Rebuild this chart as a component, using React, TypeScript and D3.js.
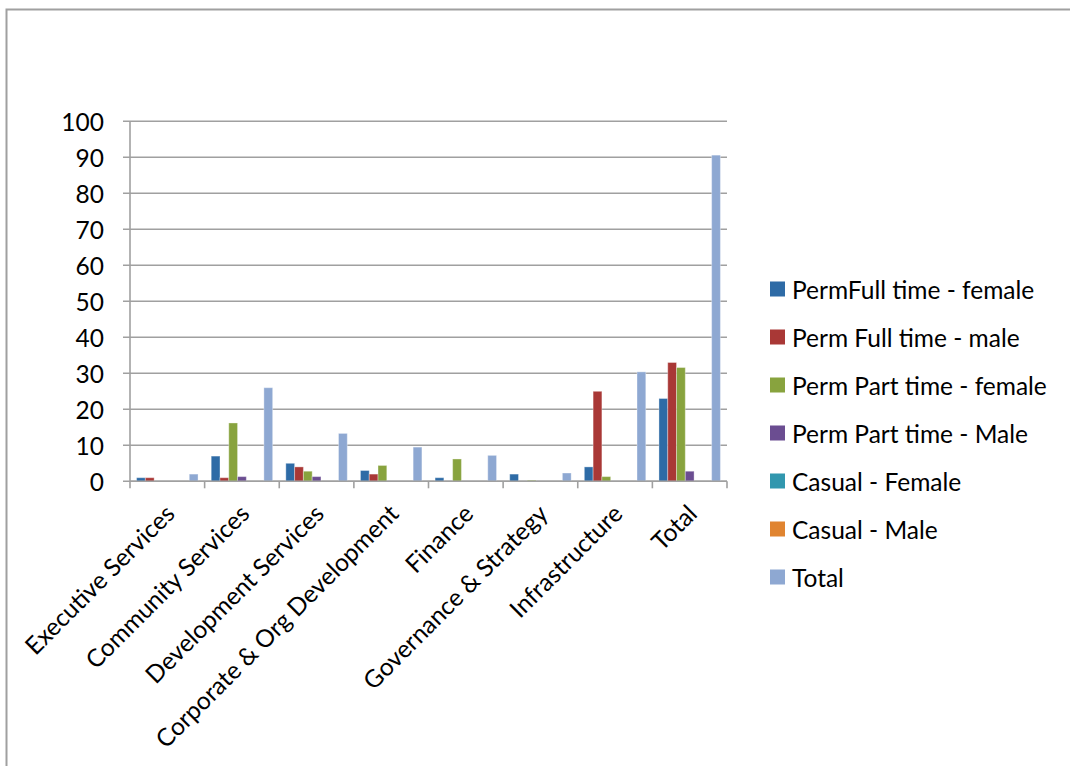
import React from "react";
import * as d3 from "d3";

// Staff numbers by directorate and employment type
const categories = [
  "Executive Services",
  "Community Services",
  "Development Services",
  "Corporate & Org Development",
  "Finance",
  "Governance & Strategy",
  "Infrastructure",
  "Total",
];

const seriesNames = [
  "PermFull time - female",
  "Perm Full time - male",
  "Perm Part time - female",
  "Perm Part time - Male",
  "Casual - Female",
  "Casual - Male",
  "Total",
];

const permFullFemale = [1, 7, 5, 3, 1, 2, 4, 23];
const permFullMale = [1, 1, 4, 2, 0, 0, 25, 33];
const permPartFemale = [0, 16.2, 2.8, 4.4, 6.2, 0.3, 1.3, 31.6];
const permPartMale = [0, 1.3, 1.3, 0, 0, 0, 0, 2.8];
const casualFemale = [0, 0, 0, 0, 0, 0, 0, 0];
const casualMale = [0, 0, 0, 0, 0, 0, 0, 0];
const totals = [2, 26, 13.3, 9.5, 7.2, 2.3, 30.4, 90.6];

const yTicks = [0, 10, 20, 30, 40, 50, 60, 70, 80, 90, 100];

const seriesValues = [
  permFullFemale,
  permFullMale,
  permPartFemale,
  permPartMale,
  casualFemale,
  casualMale,
  totals,
];

const seriesColors = [
  "#2E6BA6",
  "#A93836",
  "#88A33E",
  "#6B4D91",
  "#3197AE",
  "#E08430",
  "#8EA8D2",
];

const FONT = "Lato, 'Open Sans', sans-serif";
const FS = 24.5;
const W = 1070;
const H = 766;
const plot = { left: 130, right: 727, top: 121.3, bottom: 481.3 };
const AXIS = "#A0A0A0";

export default function App() {
  const x = d3
    .scaleBand<string>()
    .domain(categories)
    .range([plot.left, plot.right])
    .paddingInner(0)
    .paddingOuter(0);
  const xs = d3
    .scaleBand<string>()
    .domain(seriesNames)
    .range([0, x.bandwidth()])
    .paddingInner(0)
    .paddingOuter(0.75);
  const y = d3.scaleLinear().domain([0, 100]).range([plot.bottom, plot.top]);

  const boundaries = d3.range(categories.length + 1).map(
    (i) => plot.left + i * x.step()
  );

  return (
    <svg
      width={W}
      height={H}
      style={{ position: "fixed", left: 0, top: 0, background: "#fff" }}
      fontFamily={FONT}
    >
      <rect x={0} y={0} width={W} height={H} fill="#fff" />
      {/* chart frame */}
      <rect
        x={6.5}
        y={9.5}
        width={W + 100}
        height={H + 100}
        fill="none"
        stroke={AXIS}
        strokeWidth={2}
      />

      {/* gridlines and y axis ticks */}
      {yTicks.map((t) => (
        <g key={t}>
          <line
            x1={plot.left - 7}
            x2={plot.right}
            y1={y(t)}
            y2={y(t)}
            stroke={AXIS}
            strokeWidth={1.6}
          />
          <text
            x={104}
            y={y(t)}
            textAnchor="end"
            dominantBaseline="central"
            fontSize={FS}
            fill="#000"
          >
            {t}
          </text>
        </g>
      ))}
      <line
        x1={plot.left}
        x2={plot.left}
        y1={plot.top}
        y2={plot.bottom}
        stroke={AXIS}
        strokeWidth={1.6}
      />

      {/* bars */}
      {seriesValues.map((vals, si) =>
        vals.map((v, ci) =>
          v > 0 ? (
            <rect
              key={`${si}-${ci}`}
              x={(x(categories[ci]) as number) + (xs(seriesNames[si]) as number)}
              y={y(v)}
              width={xs.bandwidth()}
              height={y(0) - y(v)}
              fill={seriesColors[si]}
              stroke="#ffffff"
              strokeOpacity={0.35}
              strokeWidth={1}
            />
          ) : null
        )
      )}

      {/* x axis */}
      <line
        x1={plot.left}
        x2={plot.right}
        y1={plot.bottom}
        y2={plot.bottom}
        stroke={AXIS}
        strokeWidth={1.6}
      />
      {boundaries.map((bx, i) => (
        <line
          key={i}
          x1={bx}
          x2={bx}
          y1={plot.bottom}
          y2={plot.bottom + 7}
          stroke={AXIS}
          strokeWidth={1.6}
        />
      ))}
      {categories.map((c) => {
        const cx = (x(c) as number) + x.bandwidth() / 2;
        return (
          <text
            key={c}
            transform={`translate(${cx + 9},${plot.bottom + 34}) rotate(-45)`}
            textAnchor="end"
            fontSize={FS}
            fill="#000"
          >
            {c}
          </text>
        );
      })}

      {/* legend */}
      {seriesNames.map((name, i) => {
        const cy = 289 + i * 48;
        return (
          <g key={name}>
            <rect x={770} y={cy - 7.5} width={15} height={15} fill={seriesColors[i]} />
            <text
              x={792}
              y={cy}
              dominantBaseline="central"
              fontSize={FS}
              fill="#000"
            >
              {name}
            </text>
          </g>
        );
      })}
    </svg>
  );
}
